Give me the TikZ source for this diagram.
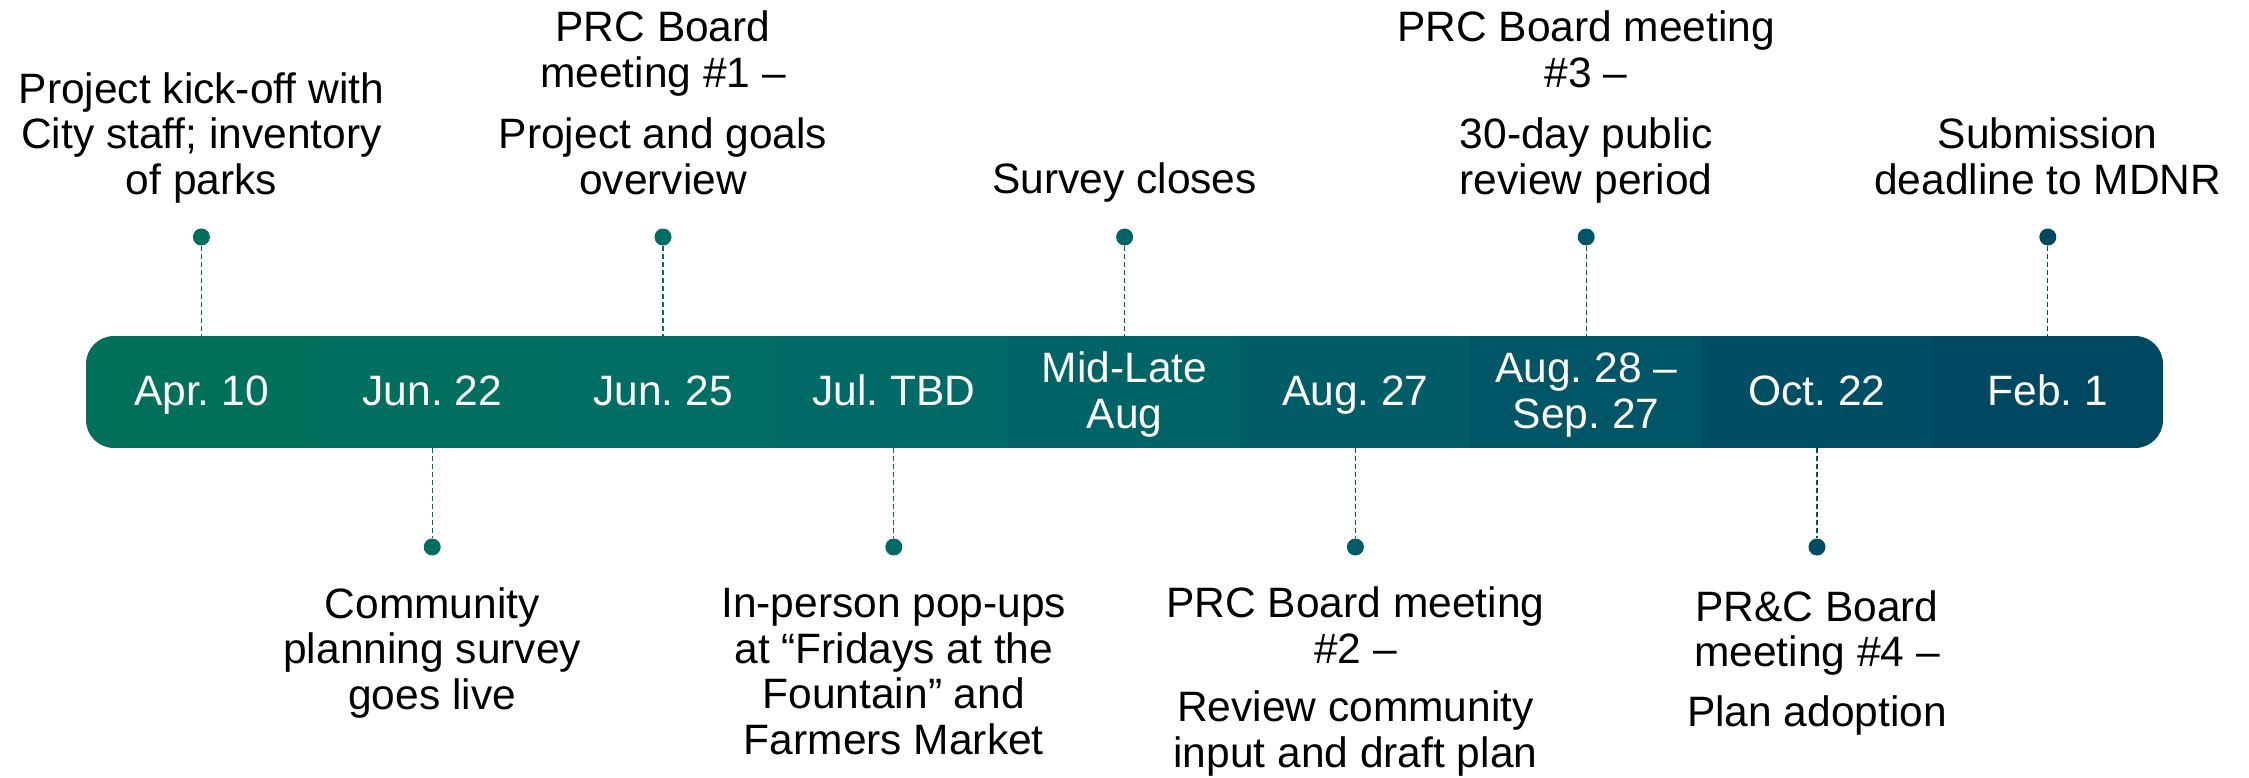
\documentclass[tikz,border=0pt]{standalone}
\usepackage{fontspec}
\setmainfont{Liberation Sans}
\frenchspacing
\definecolor{c0}{RGB}{0,112,91}
\definecolor{c1}{RGB}{0,111,96}
\definecolor{c2}{RGB}{0,110,100}
\definecolor{c3}{RGB}{0,106,102}
\definecolor{c4}{RGB}{0,100,102}
\definecolor{c5}{RGB}{0,92,102}
\definecolor{c6}{RGB}{0,86,102}
\definecolor{c7}{RGB}{0,78,100}
\definecolor{c8}{RGB}{0,71,97}
\begin{document}
\begin{tikzpicture}[x=1pt,y=-1pt,
  lbl/.style={font=\fontsize{42.5}{45.5}\selectfont\frenchspacing, align=center, inner sep=0pt, anchor=base, text=black},
  datelbl/.style={lbl, text=white},
  seg/.style={rectangle, inner sep=0pt, minimum width=231.6pt, minimum height=112pt, draw=none},
  dot/.style={circle, fill=#1, inner sep=0pt, minimum size=17pt},
  lead/.style={draw=#1, line width=1.3pt, dash pattern=on 5pt off 3pt}]
\useasboundingbox (0,0) rectangle (2249,777);
\begin{scope}
\clip[rounded corners=28pt] (86,336) rectangle (2163,448);
\foreach \i in {0,...,8}{
  \node[seg, fill=c\i] (s\i) at ({201.4+230.8*\i},392) {};
}
\end{scope}
% dates (anchor = baseline of last line)
\node[datelbl] (d0) at (s0 |- 0,405) {Apr. 10};
\node[datelbl] (d1) at (s1 |- 0,405) {Jun. 22};
\node[datelbl] (d2) at (s2 |- 0,405) {Jun. 25};
\node[datelbl] (d3) at (s3 |- 0,405) {Jul. TBD};
\node[datelbl] (d4) at (s4 |- 0,428) {Mid-Late\\Aug};
\node[datelbl] (d5) at (s5 |- 0,405) {Aug. 27};
\node[datelbl] (d6) at (s6 |- 0,428) {Aug. 28 –\\Sep. 27};
\node[datelbl] (d7) at (s7 |- 0,405) {Oct. 22};
\node[datelbl] (d8) at (s8 |- 0,405) {Feb. 1};
% dots
\foreach \i in {0,2,4,6,8}{
  \node[dot=c\i] (p\i) at (s\i |- 0,237) {};
  \draw[lead=c\i] (p\i) -- (s\i.north);
}
\foreach \i in {1,3,5,7}{
  \node[dot=c\i] (p\i) at (s\i |- 0,547) {};
  \draw[lead=c\i] (s\i.south) -- (p\i);
}
% top labels
\node[lbl] (t0) at (s0 |- 0,194) {Project kick-off with\\City staff; inventory\\of parks};
\node[lbl] (t2) at (s2 |- 0,194) {PRC Board\\meeting \#1 –\\[16pt]Project and goals\\overview};
\node[lbl] (t4) at (s4 |- 0,193) {Survey closes};
\node[lbl] (t6) at (s6 |- 0,194) {PRC Board meeting\\\#3 –\\[16pt]30-day public\\review period};
\node[lbl] (t8) at (s8 |- 0,194) {Submission\\deadline to MDNR};
% bottom labels
\node[lbl] (b1) at (s1 |- 0,709) {Community\\planning survey\\goes live};
\node[lbl] (b3) at (s3 |- 0,754) {In-person pop-ups\\at “Fridays at the\\Fountain” and\\Farmers Market};
\node[lbl] (b5) at (s5 |- 0,767) {PRC Board meeting\\\#2 –\\[13pt]Review community\\input and draft plan};
\node[lbl] (b7) at (s7 |- 0,726) {PR\&C Board\\meeting \#4 –\\[14pt]Plan adoption};
\end{tikzpicture}
\end{document}
